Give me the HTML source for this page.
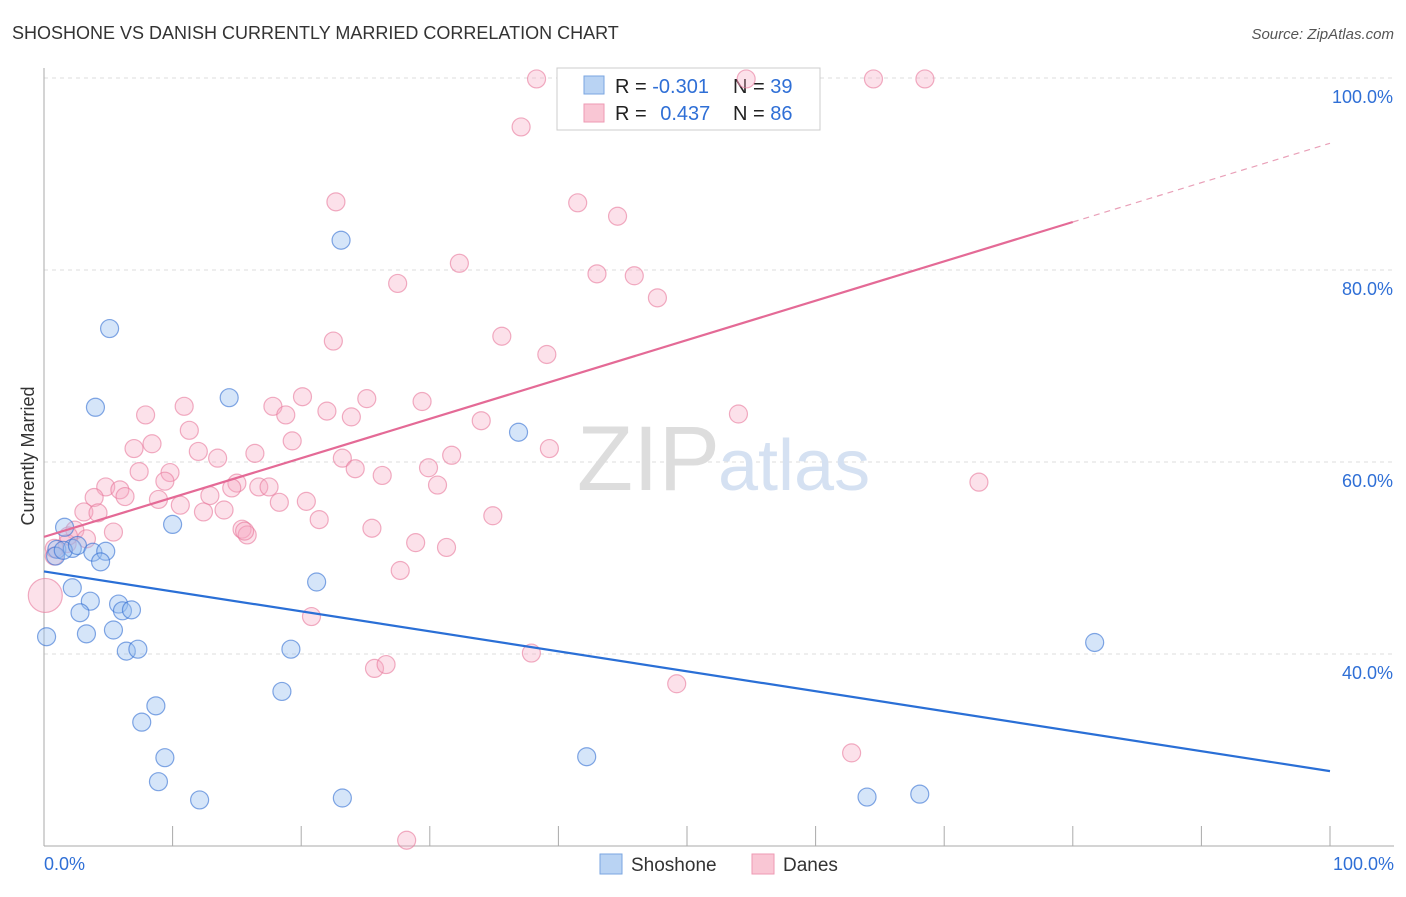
<!DOCTYPE html>
<html><head><meta charset="utf-8"><style>
body{margin:0;background:#fff;font-family:"Liberation Sans",sans-serif}
svg text{font-family:"Liberation Sans",sans-serif}
</style></head><body>
<svg width="1406" height="892" viewBox="0 0 1406 892" xmlns="http://www.w3.org/2000/svg">
<text x="12" y="39" font-size="18" fill="#333">SHOSHONE VS DANISH CURRENTLY MARRIED CORRELATION CHART</text>
<text x="1394" y="39" font-size="15" fill="#555" text-anchor="end" font-style="italic">Source: ZipAtlas.com</text>
<text transform="translate(34,456) rotate(-90)" font-size="18" fill="#333" text-anchor="middle">Currently Married</text>
<g id="grid"></g>
<text x="720" y="490" font-size="92" fill="#ddd" text-anchor="end" font-family="Liberation Serif">ZIP</text>
<text x="718" y="490" font-size="72" fill="#d5e1f2">atlas</text>
<g>
<rect x="557" y="68" width="263" height="62" fill="#fff" stroke="#ccc"/>
<rect x="584" y="76" width="20" height="18" fill="#b9d3f3" stroke="#7aa6e0"/>
<rect x="584" y="104" width="20" height="18" fill="#f9c6d4" stroke="#ee9ab3"/>
<text x="615" y="93" font-size="20" fill="#222">R = <tspan fill="#2f6fd6">-0.301</tspan></text>
<text x="733" y="93" font-size="20" fill="#222">N = <tspan fill="#2f6fd6">39</tspan></text>
<text x="615" y="120" font-size="20" fill="#222">R = <tspan fill="#2f6fd6" dx="8">0.437</tspan></text>
<text x="733" y="120" font-size="20" fill="#222">N = <tspan fill="#2f6fd6">86</tspan></text>
</g>
<g id="pts"></g>
<g id="lines"></g>
<g>
<rect x="600" y="854" width="22" height="20" fill="#b9d3f3" stroke="#7aa6e0"/>
<text x="631" y="871" font-size="19" fill="#333">Shoshone</text>
<rect x="752" y="854" width="22" height="20" fill="#f9c6d4" stroke="#ee9ab3"/>
<text x="783" y="871" font-size="19" fill="#333">Danes</text>
</g>
</svg>
<script>
const yTicks=[40,60,80,100];
const xTickLabels=["0.0%","100.0%"];
const blueX=[1.6,1.0,0.9,2.2,1.5,2.6,3.8,4.8,4.4,2.2,3.6,2.8,3.3,0.2,5.4,5.8,6.1,6.8,6.4,7.3,5.1,4.0,14.4,10.0,21.2,19.2,23.1,36.9,8.7,7.6,9.4,8.9,12.1,18.5,23.2,42.2,81.7,64.0,68.1];
const blueY=[53.2,50.9,50.2,51.0,50.8,51.3,50.6,50.7,49.6,46.9,45.5,44.3,42.1,41.8,42.5,45.2,44.5,44.6,40.3,40.5,73.9,65.7,66.7,53.5,47.5,40.5,83.1,63.1,34.6,32.9,29.2,26.7,24.8,36.1,25.0,29.3,41.2,25.1,25.4];
const pinkX=[38.3,54.6,64.5,68.5,37.1,22.7,41.5,44.6,32.3,27.5,43.0,45.9,47.7,22.5,35.6,39.1,54.0,72.7,7.9,10.9,17.8,20.1,25.1,29.4,18.8,22.0,23.9,34.0,7.0,8.4,11.3,12.0,13.5,16.4,19.3,23.2,24.2,26.3,29.9,31.7,39.3,7.4,9.8,9.4,4.8,5.9,3.9,6.3,8.9,10.6,12.9,15.0,14.6,16.7,17.5,18.3,20.4,30.6,3.1,4.2,12.4,14.0,21.4,34.9,5.4,2.4,3.3,1.8,15.4,15.8,25.5,28.9,31.3,27.7,20.8,37.9,25.7,26.6,49.2,62.8,28.2,0.8,0.1,0.8,1.9,15.6];
const pinkY=[99.9,99.9,99.9,99.9,94.9,87.1,87.0,85.6,80.7,78.6,79.6,79.4,77.1,72.6,73.1,71.2,65.0,57.9,64.9,65.8,65.8,66.8,66.6,66.3,64.9,65.3,64.7,64.3,61.4,61.9,63.3,61.1,60.4,60.9,62.2,60.4,59.3,58.6,59.4,60.7,61.4,59.0,58.9,58.0,57.4,57.1,56.3,56.4,56.1,55.5,56.5,57.8,57.3,57.4,57.4,55.8,55.9,57.6,54.8,54.7,54.8,55.0,54.0,54.4,52.7,52.9,52.0,51.5,53.0,52.4,53.1,51.6,51.1,48.7,43.9,40.1,38.5,38.9,36.9,29.7,20.6,50.2,46.1,51.0,52.3,52.8];
const pinkR=[];pinkY.forEach((v,i)=>pinkR.push(i===82?17:9));
const blueLine=[48.6,27.8];
const pinkLine=[52.2,93.2];
const pinkSolidEnd=80;
const X=v=>44+v*12.86, Y=v=>1038-v*9.6;
const NS="http://www.w3.org/2000/svg";
function mk(t,a,p){const e=document.createElementNS(NS,t);for(const k in a)e.setAttribute(k,a[k]);p.appendChild(e);return e;}
const g=document.getElementById('grid');
yTicks.forEach(t=>{
 const l=mk('line',{x1:44,x2:1394,y1:Y(t),y2:Y(t),stroke:'#ddd','stroke-dasharray':'4,4'},g);
 
 
 const tx=mk('text',{x:1393,y:Y(t)+25,'font-size':18,fill:'#2f6fd6','text-anchor':'end'},g);
 tx.textContent=t.toFixed(1)+'%';
 
 
});
const ax=mk('line',{x1:44,x2:44,y1:68,y2:846,stroke:'#aaa'},g);


const bx=mk('line',{x1:44,x2:1394,y1:846,y2:846,stroke:'#aaa'},g);


for(let i=0;i<=10;i++){
 const t=mk('line',{x1:X(i*10),x2:X(i*10),y1:826,y2:846,stroke:'#aaa'},g);
 
 
}
[[0,'start',xTickLabels[0]],[100,'end',xTickLabels[1]]].forEach(([v,a,s],i)=>{
 const tx=mk('text',{x:i?1394:44,y:870,'font-size':18,fill:'#2f6fd6','text-anchor':a},g);
 tx.textContent=s;
 
 
});
const p=document.getElementById('pts');
pinkX.forEach((x,i)=>{
 const c=mk('circle',{cx:X(x),cy:Y(pinkY[i]),r:pinkR[i],fill:'rgba(246,170,195,0.35)',stroke:'rgba(232,120,155,0.6)','stroke-width':1.2},p);
 
 
});
blueX.forEach((x,i)=>{
 const c=mk('circle',{cx:X(x),cy:Y(blueY[i]),r:9,fill:'rgba(150,190,240,0.4)',stroke:'rgba(50,110,210,0.6)','stroke-width':1.2},p);
 
 
});
const L=document.getElementById('lines');
const bl=mk('line',{x1:X(0),y1:Y(blueLine[0]),x2:X(100),y2:Y(blueLine[1]),stroke:'#2a6fd6','stroke-width':2.2},L);


const pe=pinkLine[0]+(pinkLine[1]-pinkLine[0])*pinkSolidEnd/100;
const pl=mk('line',{x1:X(0),y1:Y(pinkLine[0]),x2:X(pinkSolidEnd),y2:Y(pe),stroke:'#e46a96','stroke-width':2.2},L);


const pd=mk('line',{x1:X(pinkSolidEnd),y1:Y(pe),x2:X(100),y2:Y(pinkLine[1]),stroke:'#e9a0b8','stroke-width':1.2,'stroke-dasharray':'6,5'},L);


</script>
</body></html>
